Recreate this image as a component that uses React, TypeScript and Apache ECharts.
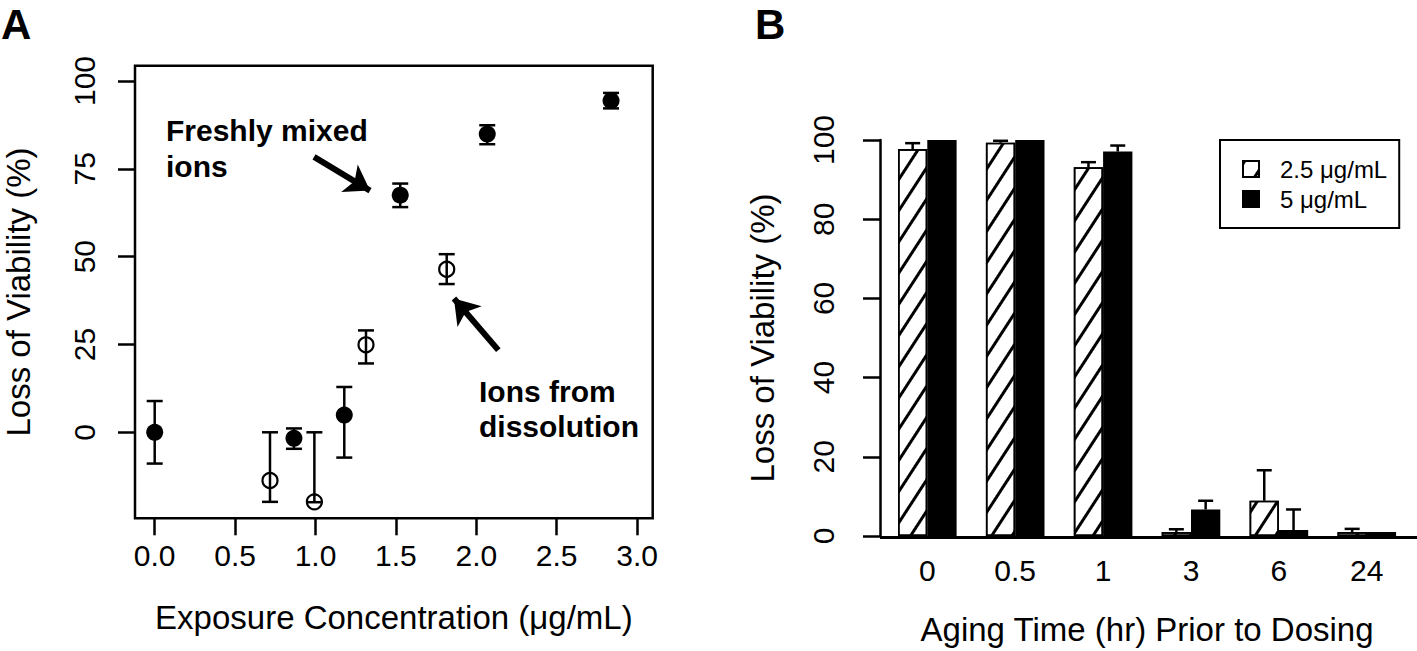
import React, { useEffect, useRef } from "react";
import * as echarts from "echarts";

const FONT = '"Liberation Sans", Arial, Helvetica, sans-serif';

// Panel A: freshly mixed ions (filled)
const freshX = [0, 0.866, 1.179, 1.527, 2.068, 2.838];
const freshY = [0, -1.7, 4.9, 67.5, 84.9, 94.4];
const freshLow = [-8.9, -4.7, -7.2, 64.1, 82.0, 92.2];
const freshHigh = [8.9, 1.1, 12.9, 70.8, 87.4, 96.6];

// Panel A: ions from dissolution (open)
const dissX = [0.717, 0.993, 1.314, 1.816];
const dissY = [-13.7, -19.8, 24.9, 46.4];
const dissLow = [-19.8, -19.9, 19.6, 42.2];
const dissHigh = [0.0, 0.0, 29.0, 50.7];

const xTicksA = [0, 0.5, 1, 1.5, 2, 2.5, 3];
const yTicksA = [0, 25, 50, 75, 100];

// Annotation arrows (data coordinates): [tail, tip]
const arrowFresh = [[0.991, 78.4], [1.339, 68.8]];
const arrowDiss = [[2.137, 23.4], [1.861, 38.1]];

// Panel B
const agingTimes = ["0", "0.5", "1", "3", "6", "24"];
const dose25 = [97.7, 99.3, 93.1, 1.0, 8.9, 1.0];
const dose25Err = [1.5, 0.5, 1.3, 0.7, 7.7, 0.8];
const dose5 = [100, 100, 97.1, 6.7, 1.5, 1.0];
const dose5Err = [0, 0, 1.5, 2.2, 5.2, 0];

const BAR_W = 29.3;

function errA(params: any, api: any) {
  const x = api.value(0);
  const lo = api.coord([x, api.value(1)]);
  const hi = api.coord([x, api.value(2)]);
  const half = 8;
  const st = { stroke: "#000", lineWidth: 2.5 };
  return {
    type: "group",
    children: [
      { type: "line", shape: { x1: lo[0], y1: lo[1], x2: hi[0], y2: hi[1] }, style: st },
      { type: "line", shape: { x1: lo[0] - half, y1: lo[1], x2: lo[0] + half, y2: lo[1] }, style: st },
      { type: "line", shape: { x1: hi[0] - half, y1: hi[1], x2: hi[0] + half, y2: hi[1] }, style: st },
    ],
  };
}

function errB(params: any, api: any) {
  const idx = api.value(0);
  const v = api.value(1);
  const e = api.value(2);
  const side = api.value(3);
  if (!(e > 0)) return { type: "group", children: [] };
  const base = api.coord([idx, v]);
  const top = api.coord([idx, v + e]);
  const x = base[0] + (side * BAR_W) / 2;
  const half = 7.5;
  const st = { stroke: "#000", lineWidth: 2.5 };
  return {
    type: "group",
    children: [
      { type: "line", shape: { x1: x, y1: base[1], x2: x, y2: top[1] }, style: st },
      { type: "line", shape: { x1: x - half, y1: top[1], x2: x + half, y2: top[1] }, style: st },
    ],
  };
}

export default function App() {
  const ref = useRef<HTMLDivElement>(null);
  useEffect(() => {
    const chart = echarts.init(ref.current!, null, { renderer: "svg" });
    const freshData = freshX.map((x, i) => [x, freshY[i]]);
    const dissData = dissX.map((x, i) => [x, dissY[i]]);
    const errDataA = [
      ...freshX.map((x, i) => [x, freshLow[i], freshHigh[i]]),
      ...dissX.map((x, i) => [x, dissLow[i], dissHigh[i]]),
    ];
    const errDataB: number[][] = [];
    agingTimes.forEach((_, i) => {
      errDataB.push([i, dose25[i], dose25Err[i], -1]);
      errDataB.push([i, dose5[i], dose5Err[i], 1]);
    });
    const tickLabel = { color: "#000", fontFamily: FONT, fontSize: 30 };
    const nameStyle = { fontFamily: FONT, fontSize: 33, color: "#000" };
    const option: any = {
      animation: false,
      backgroundColor: "#fff",
      textStyle: { fontFamily: FONT, color: "#000" },
      grid: [
        {
          left: 135, top: 65.7, width: 517.7, height: 452.6,
          show: true, borderColor: "#000", borderWidth: 2.5, backgroundColor: "transparent",
        },
        { left: 883.35, top: 140, width: 527.4, height: 397.5 },
      ],
      legend: {
        orient: "vertical",
        left: 1220,
        top: 140,
        padding: [17, 12, 17, 22],
        itemWidth: 16,
        itemHeight: 16,
        itemGap: 6,
        borderColor: "#000",
        borderWidth: 2,
        borderRadius: 0,
        icon: "rect",
        textStyle: { fontFamily: FONT, fontSize: 24, color: "#000", padding: [0, 0, 0, 16] },
        data: ["2.5 μg/mL", "5 μg/mL"],
      },
      xAxis: [
        {
          type: "value", gridIndex: 0, min: -0.1225, max: 3.097,
          name: "Exposure Concentration (μg/mL)", nameLocation: "middle", nameGap: 83,
          nameTextStyle: nameStyle,
          axisLine: { show: false, onZero: false },
          splitLine: { show: false },
          axisTick: { show: true, length: 17, customValues: xTicksA, lineStyle: { color: "#000", width: 2.5 } },
          axisLabel: { ...tickLabel, margin: 22, customValues: xTicksA, formatter: (v: number) => v.toFixed(1) },
        },
        {
          type: "category", gridIndex: 1, data: agingTimes,
          name: "Aging Time (hr) Prior to Dosing", nameLocation: "middle", nameGap: 77,
          nameTextStyle: nameStyle,
          axisLine: { show: false, onZero: false },
          axisTick: { show: false },
          splitLine: { show: false },
          axisLabel: { ...tickLabel, margin: 19 },
        },
      ],
      yAxis: [
        {
          type: "value", gridIndex: 0, min: -24.48, max: 104.35,
          name: "Loss of Viability (%)", nameLocation: "middle", nameGap: 100,
          nameTextStyle: nameStyle,
          axisLine: { show: false, onZero: false },
          splitLine: { show: false },
          axisTick: { show: true, length: 17, customValues: yTicksA, lineStyle: { color: "#000", width: 2.5 } },
          axisLabel: { ...tickLabel, rotate: 90, margin: 36, customValues: yTicksA },
        },
        {
          type: "value", gridIndex: 1, min: 0, max: 100, interval: 20, offset: 3.35,
          name: "Loss of Viability (%)", nameLocation: "middle", nameGap: 101,
          nameTextStyle: nameStyle,
          axisLine: { show: true, onZero: false, lineStyle: { color: "#000", width: 2.5 } },
          splitLine: { show: false },
          axisTick: { show: true, length: 17, lineStyle: { color: "#000", width: 2.5 } },
          axisLabel: { ...tickLabel, rotate: 90, margin: 42 },
        },
      ],
      series: [
        {
          type: "custom", name: "errA", xAxisIndex: 0, yAxisIndex: 0,
          renderItem: errA, data: errDataA, z: 3, silent: true,
          encode: { x: 0, y: [1, 2] },
        },
        {
          type: "scatter", name: "Freshly mixed ions", xAxisIndex: 0, yAxisIndex: 0,
          data: freshData, symbol: "circle", symbolSize: 17, z: 4,
          itemStyle: { color: "#000", opacity: 1 },
          markLine: {
            silent: true, animation: false,
            symbol: ["none", "arrow"], symbolSize: 24,
            label: { show: false },
            lineStyle: { color: "#000", width: 6, type: "solid" },
            data: [
              [{ coord: arrowFresh[0] }, { coord: arrowFresh[1] }],
              [{ coord: arrowDiss[0] }, { coord: arrowDiss[1] }],
            ],
          },
        },
        {
          type: "scatter", name: "Ions from dissolution", xAxisIndex: 0, yAxisIndex: 0,
          data: dissData, symbol: "circle", symbolSize: 15, z: 4,
          itemStyle: { color: "rgba(255,255,255,0)", borderColor: "#000", borderWidth: 2.2, opacity: 1 },
        },
        {
          type: "bar", name: "2.5 μg/mL", xAxisIndex: 1, yAxisIndex: 1,
          data: dose25, barWidth: BAR_W, barGap: "0%",
          itemStyle: {
            color: "#fff", borderColor: "#000", borderWidth: 1.6,
            decal: {
              symbol: "rect", symbolSize: 1, dashArrayX: [1, 0], dashArrayY: [2.3, 14],
              rotation: (-57 * Math.PI) / 180, color: "#000",
            },
          },
        },
        {
          type: "bar", name: "5 μg/mL", xAxisIndex: 1, yAxisIndex: 1,
          data: dose5, barWidth: BAR_W, barGap: "0%",
          itemStyle: { color: "#000", borderColor: "#000", borderWidth: 1.6 },
        },
        {
          type: "custom", name: "errB", xAxisIndex: 1, yAxisIndex: 1,
          renderItem: errB, data: errDataB, z: 5, silent: true,
          encode: { x: 0, y: 1 },
        },
      ],
      graphic: [
        { type: "text", left: 1, top: 3, style: { text: "A", font: `bold 42px ${FONT}`, fill: "#000" } },
        { type: "text", left: 755, top: 3, style: { text: "B", font: `bold 42px ${FONT}`, fill: "#000" } },
        {
          type: "text", x: 166, y: 112,
          style: { text: "Freshly mixed\nions", font: `bold 30px ${FONT}`, fill: "#000", lineHeight: 36, verticalAlign: "top" },
        },
        {
          type: "text", x: 479, y: 374,
          style: { text: "Ions from\ndissolution", font: `bold 30px ${FONT}`, fill: "#000", lineHeight: 35, verticalAlign: "top" },
        },
        {
          type: "line", shape: { x1: 880, y1: 537.5, x2: 1417, y2: 537.5 },
          style: { stroke: "#000", lineWidth: 3 },
        },
      ],
    };
    chart.setOption(option);
    return () => chart.dispose();
  }, []);
  return (
    <div
      ref={ref}
      style={{ position: "absolute", left: 0, top: 0, width: 1417, height: 651, background: "#fff" }}
    />
  );
}
